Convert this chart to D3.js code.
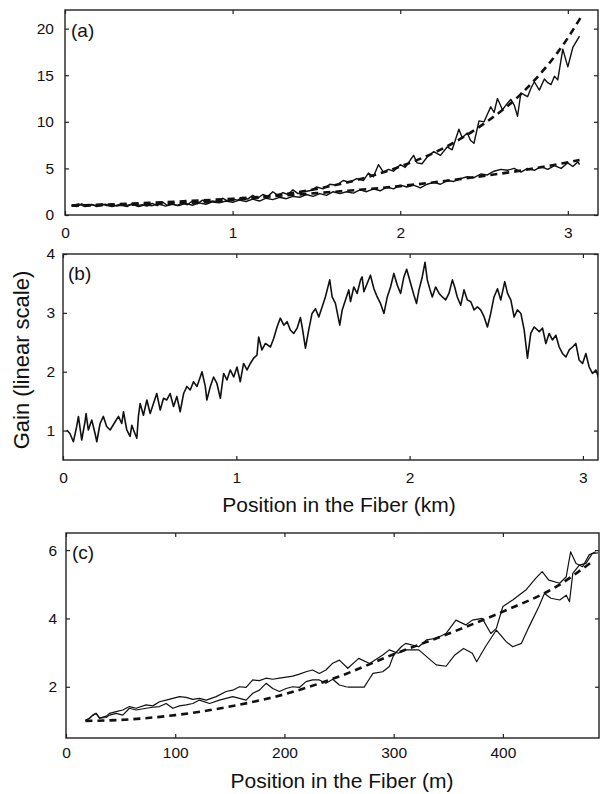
<!DOCTYPE html>
<html><head><meta charset="utf-8">
<script src="https://cdn.jsdelivr.net/npm/d3@7"></script>
<style>
html,body{margin:0;padding:0;background:#fff;}
svg{display:block;font-family:"Liberation Sans",Arial,Helvetica,sans-serif;}
</style></head>
<body>
<svg id="chart" width="600" height="794"></svg>
<script>
// ---------- Panel (a): gain vs position (km) ----------
const aTicksX = [0, 1, 2, 3];
const aTicksY = [0, 5, 10, 15, 20];
const aMeasuredHigh = [[0.04,1.1],[0.07,0.9],[0.10,1.2],[0.13,0.95],[0.16,1.15],[0.19,0.9],[0.22,1.2],[0.25,1.0],[0.28,1.15],[0.31,0.95],[0.34,1.1],[0.37,0.9],[0.40,1.2],[0.43,1.0],[0.46,1.1],[0.49,0.95],[0.52,1.25],[0.55,1.0],[0.58,1.4],[0.61,1.05],[0.64,1.2],[0.67,1.0],[0.70,1.3],[0.73,1.1],[0.76,1.5],[0.79,1.2],[0.82,1.6],[0.85,1.3],[0.88,1.5],[0.91,1.4],[0.94,1.8],[0.97,1.5],[1.00,1.7],[1.03,1.6],[1.06,1.9],[1.09,1.7],[1.12,2.1],[1.15,1.8],[1.18,2.2],[1.21,2.0],[1.24,2.5],[1.27,2.1],[1.30,2.4],[1.33,2.2],[1.36,2.7],[1.39,2.3],[1.42,2.5],[1.46,2.6],[1.50,3.0],[1.54,2.8],[1.58,3.3],[1.62,3.2],[1.66,3.7],[1.70,3.5],[1.74,3.9],[1.78,3.7],[1.81,4.5],[1.84,4.1],[1.87,5.4],[1.90,4.6],[1.93,4.9],[1.96,4.7],[2.00,5.4],[2.03,5.1],[2.06,5.9],[2.08,6.4],[2.10,5.6],[2.13,5.5],[2.16,6.2],[2.20,6.8],[2.24,6.4],[2.28,7.3],[2.31,7.0],[2.35,9.2],[2.37,8.3],[2.40,8.8],[2.42,8.0],[2.44,7.7],[2.47,10.1],[2.50,10.0],[2.54,11.6],[2.56,11.0],[2.58,12.5],[2.61,11.3],[2.64,12.0],[2.66,12.4],[2.68,11.8],[2.70,10.6],[2.72,13.1],[2.74,12.9],[2.76,12.7],[2.78,13.6],[2.80,14.3],[2.83,13.4],[2.86,14.6],[2.88,14.2],[2.90,14.0],[2.92,14.9],[2.94,14.5],[2.97,17.8],[3.00,15.9],[3.03,18.0],[3.05,18.6],[3.07,19.2]];
const aMeasuredLow = [[0.04,1.0],[0.08,1.2],[0.12,0.9],[0.16,1.1],[0.20,0.95],[0.24,1.15],[0.28,0.9],[0.32,1.1],[0.36,1.0],[0.40,1.15],[0.44,0.9],[0.48,1.1],[0.52,1.0],[0.56,1.2],[0.60,0.95],[0.64,1.15],[0.68,1.0],[0.72,1.25],[0.76,1.05],[0.80,1.3],[0.84,1.15],[0.88,1.4],[0.92,1.3],[0.96,1.5],[1.00,1.35],[1.04,1.6],[1.08,1.45],[1.12,1.7],[1.16,1.5],[1.20,1.8],[1.24,1.65],[1.28,1.9],[1.32,1.75],[1.36,2.0],[1.40,1.9],[1.44,2.2],[1.48,2.0],[1.52,2.3],[1.56,2.1],[1.60,2.5],[1.64,2.3],[1.68,2.5],[1.72,2.35],[1.76,2.7],[1.80,2.5],[1.84,2.8],[1.88,2.6],[1.92,3.0],[1.96,2.8],[2.00,3.2],[2.04,3.0],[2.08,3.2],[2.12,2.9],[2.16,3.3],[2.20,3.5],[2.24,3.3],[2.28,3.7],[2.32,3.6],[2.36,3.9],[2.40,4.1],[2.44,4.0],[2.48,4.4],[2.52,4.3],[2.56,4.7],[2.60,4.9],[2.64,4.8],[2.68,5.0],[2.72,4.6],[2.76,5.0],[2.80,4.8],[2.84,5.2],[2.88,4.9],[2.92,5.3],[2.96,5.0],[3.00,5.6],[3.03,5.2],[3.06,5.7],[3.07,5.4]];
const aTheoryHigh = [[0.04,1.0],[0.5,1.15],[1.0,1.6],[1.25,2.1],[1.5,2.8],[1.75,3.8],[2.0,5.2],[2.25,7.1],[2.5,9.8],[2.75,13.5],[3.0,19.0],[3.08,21.3]];
const aTheoryLow = [[0.04,1.0],[0.5,1.3],[1.0,1.75],[1.5,2.35],[2.0,3.1],[2.5,4.2],[2.75,4.85],[3.07,5.9]];

// ---------- Panel (b) ----------
const bTicksX = [0, 1, 2, 3];
const bTicksY = [1, 2, 3, 4];
const bMeasured = [[0.021,1.01],[0.040,0.95],[0.060,0.81],[0.079,1.07],[0.089,1.24],[0.108,0.84],[0.127,1.15],[0.133,1.29],[0.146,1.01],[0.166,1.18],[0.185,0.95],[0.195,0.81],[0.214,1.12],[0.233,1.24],[0.252,1.07],[0.272,1.01],[0.301,1.15],[0.320,1.24],[0.339,1.12],[0.349,1.32],[0.368,1.01],[0.387,0.90],[0.397,1.09],[0.407,1.01],[0.426,0.87],[0.435,1.24],[0.445,1.46],[0.464,1.26],[0.484,1.52],[0.503,1.29],[0.522,1.46],[0.541,1.63],[0.561,1.35],[0.580,1.55],[0.599,1.52],[0.618,1.63],[0.638,1.41],[0.657,1.58],[0.676,1.32],[0.696,1.63],[0.715,1.75],[0.734,1.69],[0.753,1.83],[0.773,1.75],[0.792,1.91],[0.802,2.00],[0.821,1.75],[0.830,1.52],[0.850,1.75],[0.869,1.91],[0.888,1.80],[0.908,1.55],[0.927,1.97],[0.946,1.86],[0.965,2.03],[0.985,1.91],[1.004,2.08],[1.023,1.83],[1.042,2.14],[1.062,2.03],[1.081,2.14],[1.100,2.23],[1.119,2.28],[1.129,2.59],[1.148,2.37],[1.168,2.48],[1.197,2.42],[1.216,2.57],[1.235,2.76],[1.254,2.91],[1.274,2.79],[1.293,2.85],[1.312,2.71],[1.331,2.65],[1.351,2.74],[1.370,2.92],[1.380,2.76],[1.399,2.40],[1.418,2.71],[1.437,2.99],[1.457,3.07],[1.476,2.93],[1.495,3.10],[1.514,3.27],[1.539,3.56],[1.553,3.27],[1.572,3.16],[1.597,2.79],[1.611,3.05],[1.630,3.22],[1.649,3.39],[1.659,3.19],[1.678,3.44],[1.697,3.33],[1.717,3.56],[1.726,3.61],[1.736,3.36],[1.755,3.50],[1.774,3.64],[1.794,3.41],[1.813,3.27],[1.832,3.16],[1.852,2.99],[1.871,3.27],[1.890,3.44],[1.909,3.67],[1.929,3.47],[1.948,3.33],[1.967,3.61],[1.983,3.74],[2.006,3.50],[2.025,3.30],[2.040,3.16],[2.054,3.39],[2.073,3.61],[2.089,3.86],[2.102,3.56],[2.118,3.39],[2.131,3.27],[2.150,3.44],[2.170,3.33],[2.189,3.27],[2.208,3.22],[2.227,3.33],[2.247,3.56],[2.260,3.44],[2.275,3.27],[2.295,3.13],[2.314,3.39],[2.333,3.22],[2.353,3.19],[2.372,3.05],[2.391,3.10],[2.410,3.05],[2.430,2.93],[2.449,2.76],[2.468,2.99],[2.487,3.27],[2.507,3.41],[2.526,3.22],[2.549,3.53],[2.565,3.33],[2.584,3.22],[2.603,2.93],[2.622,3.05],[2.642,2.99],[2.661,2.71],[2.680,2.23],[2.699,2.65],[2.719,2.76],[2.748,2.68],[2.767,2.74],[2.786,2.48],[2.805,2.65],[2.824,2.54],[2.844,2.62],[2.863,2.42],[2.882,2.31],[2.902,2.25],[2.921,2.37],[2.940,2.42],[2.959,2.48],[2.978,2.20],[2.998,2.14],[3.017,2.31],[3.036,2.08],[3.055,1.97],[3.075,2.03],[3.089,1.91]];

// ---------- Panel (c): position in metres ----------
const cTicksX = [0, 100, 200, 300, 400];
const cTicksY = [2, 4, 6];
const cMeasuredA = [[17.8,1.01],[21.5,1.08],[24.6,1.17],[27.6,1.22],[30.7,1.08],[36.8,1.14],[39.8,1.22],[45.9,1.27],[52.0,1.32],[58.1,1.42],[64.2,1.37],[73.4,1.47],[79.5,1.44],[85.6,1.56],[91.7,1.61],[97.8,1.66],[103.9,1.71],[110.0,1.69],[116.1,1.63],[122.2,1.66],[128.3,1.61],[137.5,1.71],[146.6,1.86],[152.7,1.90],[158.8,2.00],[164.9,1.98],[171.0,2.20],[177.1,2.18],[183.2,2.25],[189.3,2.22],[195.4,2.25],[201.5,2.28],[207.6,2.31],[213.7,2.37],[219.8,2.44],[225.8,2.49],[231.9,2.39],[238.0,2.49],[244.2,2.69],[250.3,2.78],[258,2.54],[268,2.83],[278,2.68],[290,2.93],[296,3.08],[304,2.98],[311,3.08],[323,3.08],[332,2.83],[339,2.64],[348,2.60],[356,2.93],[364,3.12],[372,2.98],[376,2.73],[384,3.17],[394,3.66],[403,3.32],[409,3.17],[417,3.27],[424,3.76],[433,4.35],[438,4.73],[444,4.59],[452,4.54],[458,4.68],[461,4.49],[464,5.32],[470,5.56],[476,5.61],[482,5.90],[487,5.92]];
const cMeasuredB = [[17.8,1.01],[21.5,1.08],[24.6,1.17],[27.6,1.22],[30.7,1.08],[36.8,1.10],[39.8,1.17],[45.9,1.22],[52.0,1.17],[58.1,1.37],[64.2,1.32],[73.4,1.37],[79.5,1.40],[85.6,1.42],[91.7,1.51],[97.8,1.37],[103.9,1.44],[110.0,1.47],[116.1,1.51],[122.2,1.61],[131.4,1.51],[140.5,1.61],[146.6,1.66],[152.7,1.71],[158.8,1.66],[164.9,1.61],[171.0,1.81],[177.1,1.90],[183.2,2.10],[189.3,1.95],[195.4,1.86],[201.5,1.95],[207.6,2.00],[213.7,1.98],[219.8,2.15],[225.8,2.20],[231.9,2.20],[238.0,2.10],[244.2,2.22],[250.3,2.05],[256.4,2.00],[259,1.99],[273,1.99],[278,2.24],[281,2.39],[290,2.44],[296,2.59],[300,2.93],[307,3.17],[311,3.27],[323,3.17],[330,3.37],[339,3.42],[348,3.56],[357,3.95],[366,3.81],[372,3.95],[381,4.00],[389,3.56],[394,3.71],[400,4.35],[409,4.54],[421,4.83],[430,5.17],[436,5.37],[442,5.12],[452,5.03],[458,5.22],[462,5.95],[467,5.61],[473,5.51],[479,5.86],[485,5.95]];
const cTheory = [[17.8,1.0],[50,1.03],[100,1.17],[150,1.42],[200,1.78],[250,2.3],[300,2.95],[350,3.55],[400,4.2],[450,4.95],[480,5.62]];

const panelLabels = ["(a)", "(b)", "(c)"];
const yTitle = "Gain (linear scale)";
const xTitleKm = "Position in the Fiber (km)";
const xTitleM = "Position in the Fiber (m)";

// ---------- drawing ----------
const svg = d3.select("#chart");
const INK = "#111";

function drawPanel(o) {
  const x = d3.scaleLinear().domain(o.xDomain).range([o.left, o.right]);
  const y = d3.scaleLinear().domain(o.yDomain).range([o.bottom, o.top]);
  const g = svg.append("g");
  const fmt = d3.format("d");
  const style = sel => {
    sel.select(".domain").remove();
    sel.selectAll(".tick line").attr("stroke", "#222").attr("stroke-width", 1.2);
    sel.selectAll(".tick text").attr("fill", INK).style("font-size", "15.5px")
      .style("font-family", '"Liberation Sans",Arial,Helvetica,sans-serif');
  };
  g.append("g").attr("transform", `translate(0,${o.bottom})`)
    .call(d3.axisBottom(x).tickValues(o.xTicks).tickSize(-4).tickPadding(o.xPad).tickFormat(fmt)).call(style);
  g.append("g").attr("transform", `translate(0,${o.top})`)
    .call(d3.axisTop(x).tickValues(o.xTicks).tickSize(-4).tickFormat("")).call(style);
  g.append("g").attr("transform", `translate(${o.left},0)`)
    .call(d3.axisLeft(y).tickValues(o.yTicks).tickSize(-4).tickPadding(o.yPad).tickFormat(fmt)).call(style);
  g.append("g").attr("transform", `translate(${o.right},0)`)
    .call(d3.axisRight(y).tickValues(o.yTicks).tickSize(-4).tickFormat("")).call(style);
  g.append("rect").attr("x", o.left).attr("y", o.top)
    .attr("width", o.right - o.left).attr("height", o.bottom - o.top)
    .attr("fill", "none").attr("stroke", "#222").attr("stroke-width", 1.4);

  const clipId = "clip" + o.id;
  svg.append("clipPath").attr("id", clipId).append("rect")
    .attr("x", o.left).attr("y", o.top).attr("width", o.right - o.left).attr("height", o.bottom - o.top);
  const plot = g.append("g").attr("clip-path", `url(#${clipId})`);

  o.solid.forEach(s => {
    plot.append("path").datum(s)
      .attr("d", d3.line().x(d => x(d[0])).y(d => y(d[1])).curve(d3.curveLinear))
      .attr("fill", "none").attr("stroke", INK).attr("stroke-width", o.solidWidth)
      .attr("stroke-linejoin", "round");
  });
  o.dashed.forEach(s => {
    plot.append("path").datum(s)
      .attr("d", d3.line().x(d => x(d[0])).y(d => y(d[1])).curve(d3.curveMonotoneX))
      .attr("fill", "none").attr("stroke", INK).attr("stroke-width", 2.6)
      .attr("stroke-dasharray", "7,5");
  });
  g.append("text").attr("x", o.labelX).attr("y", o.labelY).text(o.label)
    .attr("fill", INK).style("font-size", "19px");
  return {x, y};
}

drawPanel({id: "a", left: 65, right: 598, top: 10, bottom: 215,
  xDomain: [0, 3.18], yDomain: [0, 22], xTicks: aTicksX, yTicks: aTicksY,
  xPad: 11.5, yPad: 11, solid: [aMeasuredLow, aMeasuredHigh], dashed: [aTheoryHigh, aTheoryLow],
  solidWidth: 1.4, label: panelLabels[0], labelX: 71, labelY: 37});

drawPanel({id: "b", left: 63, right: 598, top: 254, bottom: 460,
  xDomain: [0, 3.087], yDomain: [0.5, 4], xTicks: bTicksX, yTicks: bTicksY,
  xPad: 11.5, yPad: 8, solid: [bMeasured], dashed: [],
  solidWidth: 1.6, label: panelLabels[1], labelX: 68, labelY: 280});

drawPanel({id: "c", left: 66, right: 599, top: 533, bottom: 738,
  xDomain: [0, 488], yDomain: [0.5, 6.5], xTicks: cTicksX, yTicks: cTicksY,
  xPad: 8.5, yPad: 9, solid: [cMeasuredA, cMeasuredB], dashed: [cTheory],
  solidWidth: 1.2, label: panelLabels[2], labelX: 72, labelY: 559});

// axis titles
svg.append("text").attr("transform", "translate(29,360) rotate(-90)")
  .attr("text-anchor", "middle").attr("fill", INK).style("font-size", "22px").text(yTitle);
svg.append("text").attr("x", 339).attr("y", 512).attr("text-anchor", "middle")
  .attr("fill", INK).style("font-size", "21px").text(xTitleKm);
svg.append("text").attr("x", 342).attr("y", 788).attr("text-anchor", "middle")
  .attr("fill", INK).style("font-size", "21px").text(xTitleM);
</script>
</body></html>
